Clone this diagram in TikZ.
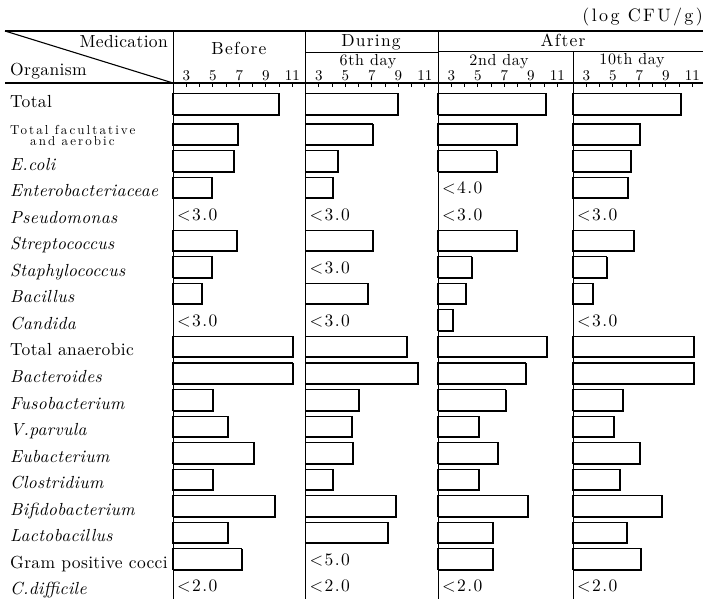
\documentclass[tikz,border=0pt]{standalone}
\usepackage{fontspec}
\setmainfont{lmroman10-regular}[Extension=.otf,ItalicFont=lmroman10-italic,BoldFont=lmroman10-bold]
\newcommand\mybar[3]{%
  \pgfmathsetmacro\bt{#2==0 ? 93.5 : 124+26.55*(#2-1)}%
  \pgfmathsetmacro\bb{\bt+21}%
  \draw[barbox] (#1,\bt) rectangle (#3,\bb);
  \draw[barshade] (#1,\bb) -- (#3,\bb) -- (#3,\bt);
}
\newcommand\mylt[3]{%
  \pgfmathsetmacro\bt{124+26.55*(#2-1)}%
  \node[lt] at (#1+4,\bt+16.5) {#3};
}
\begin{document}
\begin{tikzpicture}[x=1pt,y=-1pt,
  col/.style={line width=0.9pt},
  hdr/.style={line width=1.1pt},
  barbox/.style={line width=1.1pt},
  barshade/.style={line width=2pt,line join=miter},
  lab/.style={anchor=base west,inner sep=0pt,font={\fontsize{17.5}{20}\selectfont\addfontfeatures{LetterSpace=2}}},
  small/.style={anchor=base west,inner sep=0pt,font={\fontsize{13}{15}\selectfont\addfontfeatures{LetterSpace=16}}},
  lt/.style={anchor=base west,inner sep=0pt,font={\fontsize{17.5}{20}\selectfont\addfontfeatures{LetterSpace=8}}},
  head/.style={anchor=base,inner sep=0pt,font={\fontsize{17.5}{20}\selectfont\addfontfeatures{LetterSpace=7}}},
  sub/.style={anchor=base,inner sep=0pt,font={\fontsize{16}{18}\selectfont\addfontfeatures{LetterSpace=4}}},
  num/.style={anchor=base,inner sep=0pt,font={\fontsize{15}{17}\selectfont}},
]
\useasboundingbox (0,0) rectangle (703,599);
% header frame
\draw[hdr] (5,31) -- (703,31);
\draw[hdr] (5,83) -- (703,83);
\draw[hdr] (5,31) -- (173,83);
\draw[col] (305.5,52) -- (438,52);
\draw[col] (438,51) -- (703,51);
\draw[col] (173,31) -- (173,599);
\draw[col] (305.5,31) -- (305.5,599);
\draw[col] (438,31) -- (438,599);
\draw[col] (573,51) -- (573,599);
% header texts
\node[lab,anchor=base east] (med) at (168,48) {Medication};
\node[lab] (org) at (10,76) {Organism};
\node[head] (bef) at (239,55) {Before};
\node[head] (dur) at (371,46.5) {During};
\node[head] (aft) at (563,46.5) {After};
\node[sub] (d6) at (368,66) {6th day};
\node[sub] (d2) at (499,66) {2nd day};
\node[sub] (d10) at (632,65) {10th day};
\node[anchor=base east,inner sep=0pt,font={\fontsize{18}{20}\selectfont\addfontfeatures{LetterSpace=13}}] (unit) at (703,22) {(log CFU/g)};
% axes
\foreach \L in {173,305.5,438,573}{
  \foreach \v in {3,...,11}{
    \draw[line width=0.8pt] (\L+\v*13.25-26.5,83) -- (\L+\v*13.25-26.5,87.5);
  }
  \foreach \v in {3,5,7,9,11}{
    \node[num] at (\L+\v*13.25-26.5,81) {\v};
  }
}
% row labels
\foreach \i/\t in {0/Total,2/\textit{E.coli},3/\textit{Enterobacteriaceae},4/\textit{Pseudomonas},
  5/\textit{Streptococcus},6/\textit{Staphylococcus},7/\textit{Bacillus},8/\textit{Candida},
  9/Total anaerobic,10/\textit{Bacteroides},11/\textit{Fusobacterium},12/\textit{V.parvula},
  13/\textit{Eubacterium},14/\textit{Clostridium},15/\textit{Bifidobacterium},
  16/\textit{Lactobacillus},17/Gram positive cocci,18/\textit{C.difficile}}{
  \pgfmathsetmacro\by{\i==0 ? 107.5 : 124+26.55*(\i-1)+19.5}
  \node[lab] (r\i) at (10,\by) {\t};
}
\node[small] (r1a) at (10,134) {Total facultative};
\node[small] (r1b) at (30,145.7) {and aerobic};
% Before
\foreach \i/\r in {0/279.3,1/238.3,2/234.3,3/212.3,5/236.7,6/212.3,7/202.3,9/292.7,10/292.7,
  11/213.3,12/227.7,13/254.3,14/213.3,15/275.3,16/228.3,17/241.7}{\mybar{173}{\i}{\r}}
\mylt{173}{4}{<3.0}
\mylt{173}{8}{<3.0}
\mylt{173}{18}{<2.0}
% During
\foreach \i/\r in {0/398.3,1/372.7,2/338.3,3/333.3,5/372.7,7/367.7,9/406.7,10/418.3,
  11/359,12/352.3,13/353.3,14/333.3,15/396,16/387.7}{\mybar{305.5}{\i}{\r}}
\mylt{305.5}{4}{<3.0}
\mylt{305.5}{6}{<3.0}
\mylt{305.5}{8}{<3.0}
\mylt{305.5}{17}{<5.0}
\mylt{305.5}{18}{<2.0}
% 2nd day
\foreach \i/\r in {0/545.7,1/517.3,2/496.7,5/516.7,6/471.7,7/465.7,8/453.3,9/546.7,10/525.7,
  11/505.7,12/479,13/498.3,14/479,15/528.3,16/492.7,17/493.3}{\mybar{438}{\i}{\r}}
\mylt{438}{3}{<4.0}
\mylt{438}{4}{<3.0}
\mylt{438}{18}{<2.0}
% 10th day
\foreach \i/\r in {0/680.7,1/640,2/631,3/627.7,5/634,6/606.7,7/593.3,9/694.3,10/694.3,
  11/623.3,12/614,13/640,14/620,15/662.3,16/626.7,17/641}{\mybar{573}{\i}{\r}}
\mylt{573}{4}{<3.0}
\mylt{573}{8}{<3.0}
\mylt{573}{18}{<2.0}
\end{tikzpicture}
\end{document}
